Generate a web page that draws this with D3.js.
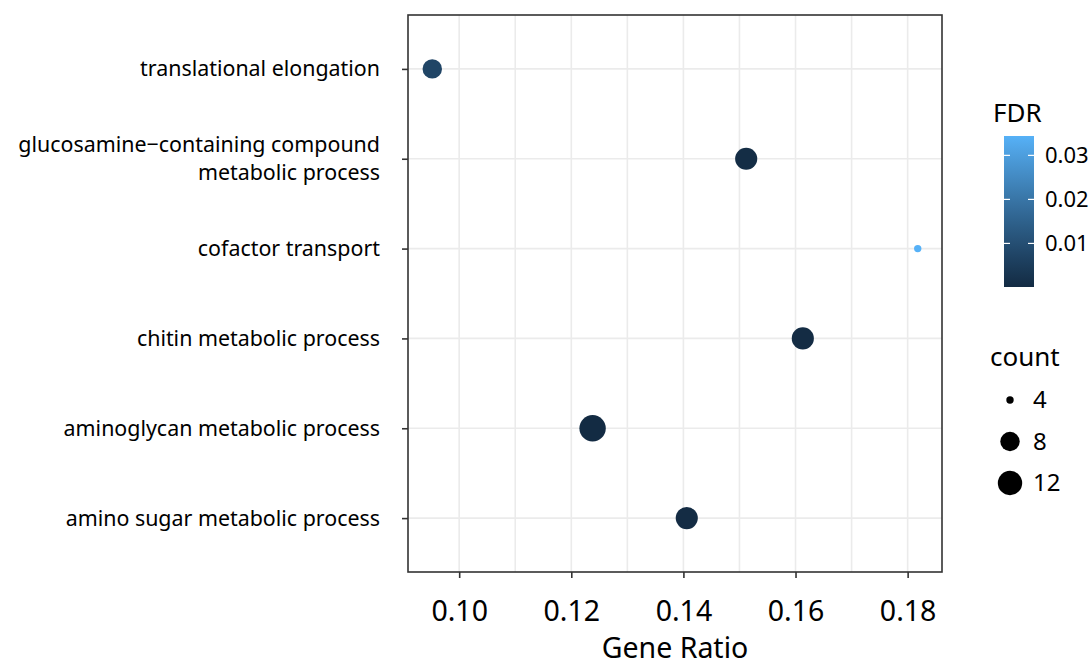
<!DOCTYPE html>
<html>
<head>
<meta charset="utf-8">
<script src="https://cdn.jsdelivr.net/npm/d3@7"></script>
<style>
  body { margin: 0; background: #fff; }
  svg text { font-family: "Noto Sans", "Open Sans", sans-serif; fill: #000; }
</style>
</head>
<body>
<div id="chart"></div>
<script>
// ----------------------
// Data (top to bottom)
// ----------------------
const terms = [
    "translational elongation",
    "glucosamine\u2212containing compound\nmetabolic process",
    "cofactor transport",
    "chitin metabolic process",
    "aminoglycan metabolic process",
    "amino sugar metabolic process"
];
const geneRatio = [0.0952, 0.1512, 0.1818, 0.1613, 0.1238, 0.1406];
const counts = [8, 10, 4, 10, 14, 10];
const fdr = [0.0075, 0.0006, 0.0344, 0.0004, 0.0001, 0.0004];

const xTicks = [0.10, 0.12, 0.14, 0.16, 0.18];
const xMinor = [0.11, 0.13, 0.15, 0.17];
const fdrTicks = [0.01, 0.02, 0.03];
const countBreaks = [4, 8, 12];

const data = terms.map((t, i) => ({
    term: t, ratio: geneRatio[i], count: counts[i], fdr: fdr[i]
}));

// Dimensions
const width = 1091, height = 666;
const panel = { left: 408, right: 942, top: 15, bottom: 572 };

const svg = d3.select("#chart").append("svg")
    .attr("width", width)
    .attr("height", height);

// Scales
const xMin = d3.min(geneRatio), xMax = d3.max(geneRatio);
const xPad = (xMax - xMin) * 0.05;
const x = d3.scaleLinear()
    .domain([xMin - xPad, xMax + xPad])
    .range([panel.left, panel.right]);

// discrete axis with 0.6 expansion on each side
const y = d3.scaleLinear()
    .domain([-0.6, terms.length - 1 + 0.6])
    .range([panel.top, panel.bottom]);

const cMin = d3.min(counts), cMax = d3.max(counts);
const rLin = d3.scaleLinear().domain([0, 1]).range([3.7, 13.2]);
const radius = v => rLin(Math.sqrt((v - cMin) / (cMax - cMin)));

const fdrMin = d3.min(fdr), fdrMax = d3.max(fdr);
const color = d3.scaleLinear()
    .domain([fdrMin, fdrMax])
    .range(["#132B43", "#56B1F7"])
    .interpolate(d3.interpolateLab);

// Grid lines
const grid = svg.append("g");
grid.selectAll(".vgrid")
    .data(xMinor.concat(xTicks))
    .enter().append("line")
    .attr("x1", d => x(d)).attr("x2", d => x(d))
    .attr("y1", panel.top).attr("y2", panel.bottom)
    .attr("stroke", "#EBEBEB").attr("stroke-width", 1.6);
grid.selectAll(".hgrid")
    .data(terms)
    .enter().append("line")
    .attr("x1", panel.left).attr("x2", panel.right)
    .attr("y1", (d, i) => y(i)).attr("y2", (d, i) => y(i))
    .attr("stroke", "#EBEBEB").attr("stroke-width", 1.6);

// Points
svg.append("g").selectAll("circle")
    .data(data)
    .enter().append("circle")
    .attr("cx", d => x(d.ratio))
    .attr("cy", (d, i) => y(i))
    .attr("r", d => radius(d.count))
    .attr("fill", d => color(d.fdr));

// Panel border
svg.append("rect")
    .attr("x", panel.left).attr("y", panel.top)
    .attr("width", panel.right - panel.left)
    .attr("height", panel.bottom - panel.top)
    .attr("fill", "none")
    .attr("stroke", "#333").attr("stroke-width", 1.6);

// X axis
const xAxis = svg.append("g")
    .attr("transform", `translate(0,${panel.bottom})`)
    .call(d3.axisBottom(x).tickValues(xTicks).tickFormat(d3.format(".2f")).tickSize(6));
xAxis.select(".domain").remove();
xAxis.selectAll(".tick line").attr("stroke", "#333").attr("stroke-width", 1.6);
xAxis.selectAll(".tick text")
    .attr("y", 49).attr("dy", 0)
    .style("font-size", "28.5px").attr("fill", "#000");

svg.append("text")
    .attr("x", (panel.left + panel.right) / 2)
    .attr("y", 658)
    .attr("text-anchor", "middle")
    .style("font-size", "28.5px")
    .text("Gene Ratio");

// Y axis
const yAxis = svg.append("g")
    .attr("transform", `translate(${panel.left},0)`)
    .call(d3.axisLeft(y).tickValues(d3.range(terms.length)).tickFormat("").tickSize(6));
yAxis.select(".domain").remove();
yAxis.selectAll(".tick line").attr("stroke", "#333").attr("stroke-width", 1.6);

const yLabels = svg.append("g").selectAll("text")
    .data(terms)
    .enter().append("text")
    .attr("x", 380)
    .attr("text-anchor", "end")
    .style("font-size", "21.4px");
yLabels.each(function(d, i) {
    const lines = d.split("\n");
    const lh = 28;
    const y0 = y(i) - (lines.length - 1) * lh / 2;
    d3.select(this).selectAll("tspan")
        .data(lines)
        .enter().append("tspan")
        .attr("x", 380)
        .attr("y", (l, j) => y0 + j * lh)
        .attr("dy", "0.35em")
        .text(l => l);
});

// ----------------------
// FDR legend (colour bar)
// ----------------------
const bar = { x: 1004, w: 30, top: 136, bottom: 287 };
svg.append("text")
    .attr("x", 993).attr("y", 122)
    .style("font-size", "26px")
    .text("FDR");

const defs = svg.append("defs");
const grad = defs.append("linearGradient")
    .attr("id", "fdrGrad")
    .attr("x1", 0).attr("y1", 1).attr("x2", 0).attr("y2", 0);
d3.range(0, 1.0001, 0.1).forEach(t => {
    grad.append("stop")
        .attr("offset", t)
        .attr("stop-color", color(fdrMin + t * (fdrMax - fdrMin)));
});
svg.append("rect")
    .attr("x", bar.x).attr("y", bar.top)
    .attr("width", bar.w).attr("height", bar.bottom - bar.top)
    .attr("fill", "url(#fdrGrad)");

const barY = d3.scaleLinear().domain([fdrMin, fdrMax]).range([bar.bottom, bar.top]);
const fdrTick = svg.append("g").selectAll("g")
    .data(fdrTicks)
    .enter().append("g")
    .attr("transform", d => `translate(0,${barY(d)})`);
fdrTick.append("line")
    .attr("x1", bar.x).attr("x2", bar.x + 6)
    .attr("stroke", "#fff").attr("stroke-width", 1.2);
fdrTick.append("line")
    .attr("x1", bar.x + bar.w - 6).attr("x2", bar.x + bar.w)
    .attr("stroke", "#fff").attr("stroke-width", 1.2);
fdrTick.append("text")
    .attr("x", 1045).attr("dy", "0.35em")
    .style("font-size", "22px")
    .text(d => d3.format(".2f")(d));

// ----------------------
// count legend (size)
// ----------------------
svg.append("text")
    .attr("x", 990).attr("y", 366)
    .style("font-size", "26px")
    .text("count");

const legY = d3.scalePoint().domain(countBreaks).range([400, 483]);
const sizeLeg = svg.append("g").selectAll("g")
    .data(countBreaks)
    .enter().append("g")
    .attr("transform", d => `translate(0,${legY(d)})`);
sizeLeg.append("circle")
    .attr("cx", 1010)
    .attr("r", d => radius(d))
    .attr("fill", "#000");
sizeLeg.append("text")
    .attr("x", 1033).attr("dy", "0.35em")
    .style("font-size", "24px")
    .text(d => d);
</script>
</body>
</html>
